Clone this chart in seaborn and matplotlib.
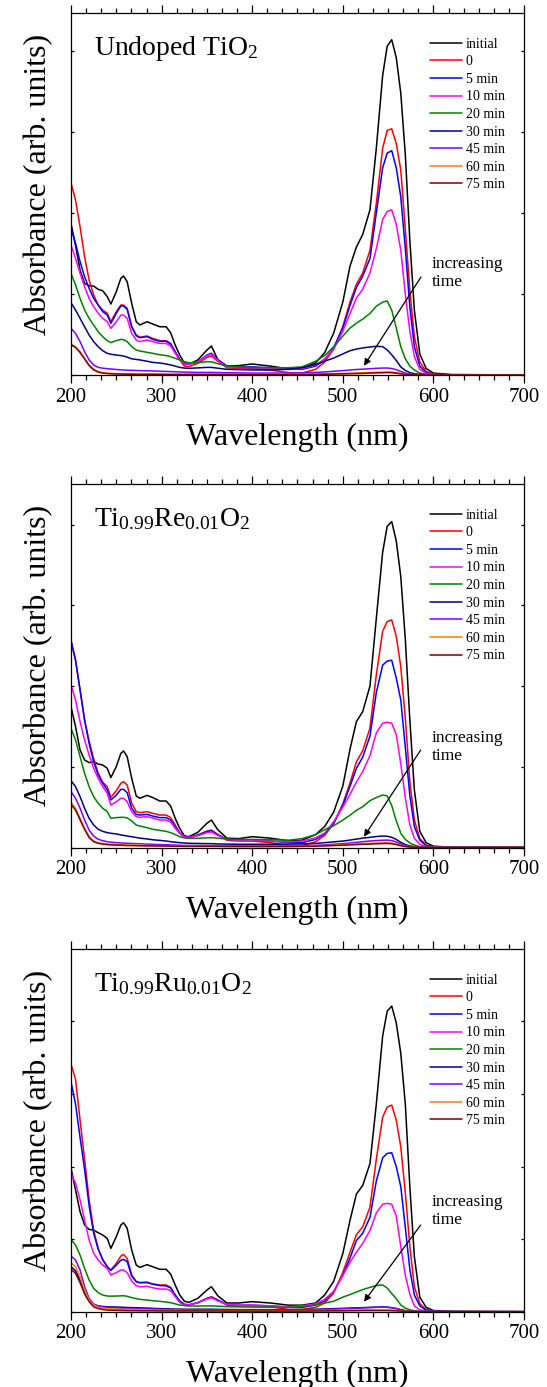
import numpy as np
import pandas as pd
import matplotlib
matplotlib.use("Agg")
import matplotlib.pyplot as plt
import seaborn as sns
from matplotlib.ticker import MultipleLocator

# ---------------- data ----------------
WL = [200, 205, 210, 215, 220, 225, 230, 235, 240, 244,
      250, 255, 258, 262, 267, 272, 276, 284, 290, 298,
      305, 310, 315, 320, 325, 330, 340, 350, 355, 362,
      372, 385, 400, 420, 440, 455, 470, 480, 490, 500,
      508, 515, 522, 530, 537, 544, 549, 554, 559, 564,
      569, 574, 579, 585, 592, 600, 620, 700]

SERIES = ["initial", "0", "5 min", "10 min", "20 min", "30 min", "45 min", "60 min", "75 min"]
COLORS = ["#000000", "#FF0000", "#0000FF", "#FF00FF", "#008000", "#000080", "#8000FF", "#FF8000", "#800000"]
TITLES = [r"Undoped TiO$_2$", r"Ti$_{0.99}$Re$_{0.01}$O$_2$", r"Ti$_{0.99}$Ru$_{0.01}$O$_2$"]

# Panel 1: undoped TiO2
P1_INITIAL = [.936, .800, .648, .566, .551, .549, .529, .520, .484, .438,
              .514, .597, .611, .576, .442, .329, .309, .329, .315, .298,
              .298, .261, .185, .123, .076, .066, .093, .154, .179, .095,
              .055, .058, .068, .055, .038, .042, .075, .138, .26, .45,
              .673, .79, .868, 1.02, 1.40, 1.85, 2.03, 2.07, 1.96, 1.74,
              1.36, .83, .40, .13, .04, .012, .003, 0]
P1_T0 = [1.187, 1.08, .916, .73, .586, .494, .432, .401, .381, .329,
         .391, .432, .432, .412, .298, .247, .233, .241, .226, .212,
         .212, .195, .144, .093, .056, .051, .072, .109, .117, .085,
         .045, .04, .04, .03, .015, .012, .035, .08, .16, .30,
         .45, .56, .63, .77, 1.06, 1.40, 1.51, 1.52, 1.43, 1.265,
         .90, .52, .237, .08, .022, .005, .001, 0]
P1_T5 = [.905, .813, .70, .607, .535, .473, .432, .391, .37, .319,
         .381, .426, .426, .405, .298, .243, .23, .237, .22, .208,
         .208, .191, .144, .097, .068, .066, .082, .123, .134, .095,
         .055, .05, .05, .045, .035, .035, .055, .095, .17, .29,
         .43, .54, .61, .72, 1.0, 1.28, 1.37, 1.385, 1.28, 1.10,
         .78, .42, .175, .055, .015, .004, .001, 0]
P1_T10 = [.802, .72, .628, .545, .473, .422, .381, .35, .329, .288,
          .329, .37, .37, .35, .257, .216, .206, .216, .206, .195,
          .195, .179, .134, .093, .068, .066, .082, .119, .128, .09,
          .05, .045, .045, .04, .035, .04, .06, .10, .16, .27,
          .38, .475, .53, .63, .78, .96, 1.01, 1.02, .93, .77,
          .50, .27, .113, .035, .01, .003, .001, 0]
P1_T20 = [.628, .556, .473, .401, .35, .309, .267, .237, .212, .2,
          .212, .22, .218, .206, .175, .154, .148, .14, .134, .125,
          .12, .113, .103, .093, .083, .076, .076, .082, .082, .07,
          .055, .05, .045, .045, .045, .05, .085, .12, .175, .24,
          .29, .32, .345, .38, .425, .45, .457, .40, .29, .175,
          .10, .055, .03, .012, .004, .001, 0, 0]
P1_T30 = [.446, .401, .35, .298, .247, .206, .175, .15, .134, .128,
          .123, .12, .117, .11, .10, .096, .093, .085, .078, .074,
          .068, .062, .055, .047, .043, .041, .044, .047, .047, .042,
          .035, .033, .031, .031, .035, .045, .065, .085, .105, .13,
          .15, .16, .167, .173, .177, .175, .155, .125, .09, .05,
          .028, .015, .008, .004, .001, 0, 0, 0]
P1_T45 = [.288, .257, .206, .144, .093, .062, .047, .042, .039, .037,
          .034, .032, .031, .030, .029, .028, .027, .026, .025, .023,
          .022, .021, .020, .019, .018, .017, .016, .016, .016, .015,
          .014, .013, .012, .012, .012, .013, .016, .019, .023, .027,
          .031, .034, .036, .039, .041, .043, .043, .040, .033, .022,
          .012, .006, .003, .001, 0, 0, 0, 0]
P1_T60 = [.191, .175, .144, .103, .062, .035, .021, .014, .011, .010,
          .008, .008, .007, .007, .007, .006, .006, .006, .006, .006,
          .005, .005, .005, .005, .005, .005, .005, .005, .005, .005,
          .005, .005, .005, .005, .005, .005, .006, .007, .008, .009,
          .011, .012, .013, .015, .017, .018, .019, .018, .015, .010,
          .006, .003, .001, 0, 0, 0, 0, 0]
P1_T75 = [.186, .170, .139, .098, .058, .032, .018, .012, .009, .008,
          .006, .006, .005, .005, .005, .004, .004, .004, .004, .004,
          .003, .003, .003, .003, .003, .003, .003, .003, .003, .003,
          .003, .003, .003, .003, .003, .003, .004, .005, .006, .007,
          .008, .009, .010, .012, .013, .014, .015, .014, .011, .007,
          .004, .002, .001, 0, 0, 0, 0, 0]

# Panel 2: Ti0.99Re0.01O2
P2_INITIAL = [.873, .749, .604, .542, .526, .532, .517, .511, .491, .433,
              .501, .583, .598, .563, .429, .319, .305, .323, .31, .288,
              .288, .257, .181, .119, .073, .067, .094, .15, .17, .11,
              .058, .055, .067, .058, .042, .045, .08, .13, .22, .38,
              .61, .78, .842, 1.0, 1.42, 1.83, 1.99, 2.019, 1.90, 1.678,
              1.29, .79, .356, .10, .03, .008, .002, 0]
P2_T0 = [1.275, 1.16, .976, .79, .66, .55, .46, .405, .377, .311,
         .352, .398, .408, .387, .274, .222, .216, .222, .212, .201,
         .201, .185, .139, .092, .063, .057, .077, .102, .108, .08,
         .045, .04, .04, .03, .012, .012, .035, .075, .15, .27,
         .40, .53, .60, .74, 1.07, 1.34, 1.40, 1.41, 1.31, 1.12,
         .80, .41, .17, .055, .015, .004, .001, 0]
P2_T5 = [1.286, 1.162, .976, .79, .645, .532, .449, .398, .356, .294,
         .325, .36, .36, .34, .243, .205, .201, .205, .195, .185,
         .185, .17, .129, .088, .067, .063, .077, .098, .104, .08,
         .05, .045, .045, .04, .03, .03, .05, .085, .15, .26,
         .38, .49, .56, .69, .96, 1.13, 1.155, 1.16, 1.05, .914,
         .62, .32, .129, .045, .012, .003, .001, 0]
P2_T10 = [1.007, .914, .78, .666, .573, .49, .429, .377, .336, .263,
          .284, .305, .305, .284, .222, .191, .187, .191, .183, .17,
          .17, .158, .119, .088, .067, .063, .073, .092, .096, .075,
          .05, .045, .045, .04, .035, .04, .06, .09, .16, .25,
          .33, .405, .47, .57, .71, .77, .776, .77, .70, .52,
          .31, .14, .057, .02, .006, .002, 0, 0]
P2_T20 = [.738, .666, .563, .46, .377, .315, .274, .243, .222, .181,
          .185, .187, .187, .183, .165, .139, .133, .123, .113, .106,
          .10, .092, .08, .067, .06, .057, .057, .06, .061, .058,
          .052, .05, .05, .048, .045, .055, .08, .11, .135, .17,
          .20, .23, .253, .29, .31, .325, .32, .26, .165, .088,
          .05, .028, .015, .006, .002, .001, 0, 0]
P2_T30 = [.414, .377, .315, .243, .181, .139, .113, .10, .092, .088,
          .084, .078, .075, .071, .067, .062, .058, .053, .048, .044,
          .04, .036, .033, .03, .028, .026, .025, .024, .024, .022,
          .021, .02, .02, .02, .021, .022, .025, .03, .035, .04,
          .046, .052, .058, .063, .068, .071, .07, .063, .05, .032,
          .018, .01, .005, .002, .001, 0, 0, 0]
P2_T45 = [.346, .305, .243, .17, .108, .071, .051, .042, .036, .033,
          .03, .028, .027, .026, .025, .024, .023, .021, .02, .018,
          .017, .016, .015, .014, .013, .013, .012, .012, .012, .011,
          .011, .01, .01, .01, .01, .011, .013, .016, .02, .024,
          .028, .032, .036, .04, .043, .045, .046, .043, .034, .022,
          .012, .006, .003, .001, 0, 0, 0, 0]
P2_T60 = [.28, .243, .181, .119, .067, .04, .03, .025, .022, .02,
          .018, .017, .016, .015, .015, .014, .013, .012, .012, .011,
          .01, .01, .01, .009, .009, .009, .008, .008, .008, .008,
          .008, .007, .007, .007, .007, .008, .01, .012, .014, .017,
          .02, .022, .024, .026, .028, .03, .03, .028, .022, .014,
          .008, .004, .002, .001, 0, 0, 0, 0]
P2_T75 = [.267, .232, .172, .112, .062, .036, .026, .021, .018, .016,
          .015, .014, .013, .012, .012, .011, .011, .01, .01, .009,
          .009, .008, .008, .008, .007, .007, .007, .007, .007, .007,
          .006, .006, .006, .006, .006, .007, .008, .01, .012, .014,
          .016, .018, .02, .021, .023, .024, .025, .023, .018, .011,
          .006, .003, .001, 0, 0, 0, 0, 0]

# Panel 3: Ti0.99Ru0.01O2
P3_INITIAL = [.99, .838, .689, .597, .567, .562, .544, .528, .505, .436,
              .517, .597, .613, .574, .425, .321, .305, .324, .31, .292,
              .292, .259, .184, .115, .073, .064, .092, .149, .172, .11,
              .06, .06, .069, .06, .045, .045, .06, .115, .21, .40,
              .63, .81, .87, 1.02, 1.43, 1.90, 2.07, 2.105, 1.99, 1.779,
              1.43, .86, .379, .10, .03, .008, .002, 0]
P3_T0 = [1.706, 1.60, 1.32, 1.05, .77, .562, .436, .356, .31, .287,
         .333, .383, .395, .367, .253, .207, .20, .204, .191, .184,
         .184, .168, .115, .069, .046, .044, .062, .092, .103, .08,
         .045, .04, .04, .035, .015, .015, .03, .06, .13, .27,
         .41, .53, .585, .72, 1.05, 1.34, 1.41, 1.423, 1.32, 1.136,
         .82, .45, .172, .055, .015, .004, .001, 0]
P3_T5 = [1.584, 1.43, 1.20, .98, .73, .54, .43, .36, .31, .284,
         .32, .355, .36, .345, .245, .207, .20, .20, .19, .18,
         .178, .163, .115, .075, .052, .048, .063, .09, .10, .08,
         .05, .045, .045, .04, .03, .03, .045, .075, .14, .25,
         .37, .49, .54, .65, .90, 1.06, 1.09, 1.095, 1.0, .861,
         .58, .29, .115, .04, .01, .003, .001, 0]
P3_T10 = [.953, .884, .769, .631, .494, .402, .356, .321, .298, .253,
          .269, .287, .287, .269, .211, .179, .172, .175, .165, .156,
          .156, .145, .103, .064, .046, .046, .062, .087, .096, .075,
          .05, .045, .045, .04, .035, .04, .055, .085, .14, .25,
          .34, .41, .47, .56, .68, .74, .746, .74, .66, .448,
          .25, .12, .04, .012, .004, .001, 0, 0]
P3_T20 = [.498, .459, .39, .298, .218, .161, .131, .115, .108, .107,
          .108, .109, .11, .106, .097, .09, .085, .08, .076, .071,
          .067, .062, .054, .046, .042, .039, .039, .04, .04, .038,
          .035, .033, .032, .031, .03, .035, .047, .06, .072, .10,
          .118, .135, .152, .168, .18, .184, .163, .125, .09, .046,
          .025, .013, .006, .002, .001, 0, 0, 0]
P3_T30 = [.31, .282, .218, .138, .08, .05, .039, .036, .034, .033,
          .032, .031, .03, .029, .028, .027, .026, .025, .023, .021,
          .02, .019, .018, .018, .017, .017, .017, .017, .017, .016,
          .015, .014, .014, .014, .014, .015, .017, .019, .021, .023,
          .025, .027, .028, .03, .031, .032, .031, .028, .022, .014,
          .008, .004, .002, .001, 0, 0, 0, 0]
P3_T45 = [.383, .356, .287, .172, .092, .053, .039, .033, .03, .028,
          .026, .024, .023, .023, .022, .021, .02, .019, .018, .016,
          .015, .014, .013, .013, .012, .012, .011, .011, .011, .011,
          .01, .01, .01, .01, .01, .011, .013, .015, .017, .02,
          .022, .024, .026, .028, .03, .031, .03, .027, .021, .013,
          .007, .003, .001, 0, 0, 0, 0, 0]
P3_T60 = [.337, .31, .241, .149, .08, .046, .03, .024, .021, .019,
          .018, .017, .016, .016, .015, .014, .013, .012, .011, .010,
          .01, .009, .009, .009, .008, .008, .008, .008, .008, .008,
          .007, .007, .007, .007, .007, .007, .008, .009, .009, .01,
          .011, .011, .012, .012, .012, .012, .012, .011, .009, .006,
          .003, .002, .001, 0, 0, 0, 0, 0]
P3_T75 = [.292, .264, .2, .122, .069, .034, .021, .015, .011, .01,
          .009, .008, .008, .007, .007, .007, .006, .006, .006, .005,
          .005, .005, .005, .005, .005, .005, .005, .005, .005, .005,
          .004, .004, .004, .004, .004, .004, .005, .005, .006, .006,
          .007, .007, .008, .008, .008, .008, .008, .007, .006, .004,
          .002, .001, 0, 0, 0, 0, 0, 0]

PANELS = [
    [P1_INITIAL, P1_T0, P1_T5, P1_T10, P1_T20, P1_T30, P1_T45, P1_T60, P1_T75],
    [P2_INITIAL, P2_T0, P2_T5, P2_T10, P2_T20, P2_T30, P2_T45, P2_T60, P2_T75],
    [P3_INITIAL, P3_T0, P3_T5, P3_T10, P3_T20, P3_T30, P3_T45, P3_T60, P3_T75],
]
YMAX = [2.235, 2.252, 2.498]

# ---------------- style ----------------
sns.set_theme(style="ticks")
plt.rcParams["font.family"] = ["Liberation Serif", "DejaVu Serif"]
plt.rcParams["mathtext.fontset"] = "custom"
plt.rcParams["mathtext.rm"] = "Liberation Serif"
plt.rcParams["mathtext.it"] = "Liberation Serif:italic"
plt.rcParams["mathtext.default"] = "regular"
plt.rcParams["axes.edgecolor"] = "black"
plt.rcParams["axes.labelcolor"] = "black"
plt.rcParams["text.color"] = "black"
plt.rcParams["axes.linewidth"] = 0.9
plt.rcParams["xtick.color"] = "black"
plt.rcParams["ytick.color"] = "black"
plt.rcParams["xtick.labelcolor"] = "black"
plt.rcParams["legend.labelcolor"] = "black"

fig = plt.figure(figsize=(5.47, 13.87), dpi=100)
rects = [
    [71 / 547, 1 - 375 / 1387, 453 / 547, 362 / 1387],
    [71 / 547, 1 - 847.5 / 1387, 453 / 547, 363.5 / 1387],
    [71 / 547, 1 - 1311.7 / 1387, 453 / 547, 362.7 / 1387],
]
text_y = [0.628, 0.625, 0.696]
arrow_start = [(586.3, 0.605), (586.0, 0.604), (586.0, 0.597)]
arrow_end = [(523.4, 0.057), (523.4, 0.067), (523.4, 0.069)]

for i in range(3):
    ax = fig.add_axes(rects[i])
    rows = []
    for name, vals in zip(SERIES, PANELS[i]):
        for w, a in zip(WL, vals):
            rows.append((name, w, a))
    df = pd.DataFrame(rows, columns=["series", "wavelength", "absorbance"])
    sns.lineplot(data=df, x="wavelength", y="absorbance", hue="series",
                 hue_order=SERIES, palette=COLORS, estimator=None, sort=False,
                 linewidth=1.1, ax=ax)
    handles, labels = ax.get_legend_handles_labels()
    if ax.get_legend() is not None:
        ax.get_legend().remove()
    ax.legend(handles, labels, loc="upper left", bbox_to_anchor=(0.792, 0.932),
              frameon=False, fontsize=10, handlelength=2.35, handletextpad=0.25,
              labelspacing=0.33, borderpad=0, borderaxespad=0)

    ax.set_xlim(200, 700)
    ax.set_ylim(0, YMAX[i])
    ax.xaxis.set_major_locator(MultipleLocator(100))
    ax.xaxis.set_minor_locator(MultipleLocator(100 / 6))
    ax.yaxis.set_major_locator(MultipleLocator(0.5))
    ax.tick_params(axis="x", which="both", direction="out", top=True, bottom=True,
                   labeltop=False, labelsize=15, pad=3.5, width=0.9)
    ax.tick_params(axis="x", which="major", length=5.5)
    ax.tick_params(axis="x", which="minor", length=3.5)
    ax.tick_params(axis="y", which="major", direction="in", left=True, right=True,
                   labelleft=False, length=2.5, width=0.9)
    for s in ax.spines.values():
        s.set_visible(True)
        s.set_color("black")

    ax.set_xlabel("Wavelength (nm)", fontsize=23, labelpad=12)
    ax.set_ylabel("Absorbance (arb. units)", fontsize=23)
    ax.yaxis.set_label_coords(-0.040, 0.527)

    ax.text(0.051, 0.883, TITLES[i], transform=ax.transAxes, fontsize=20,
            ha="left", va="baseline")
    ax.text(598.5, text_y[i], "increasing\ntime", fontsize=12.5, ha="left",
            va="center", linespacing=1.15)
    ax.annotate("", xy=arrow_end[i], xytext=arrow_start[i],
                arrowprops=dict(arrowstyle="-|>", color="black", lw=0.9,
                                mutation_scale=10, shrinkA=0, shrinkB=0))

fig.savefig("out.png", dpi=100)
